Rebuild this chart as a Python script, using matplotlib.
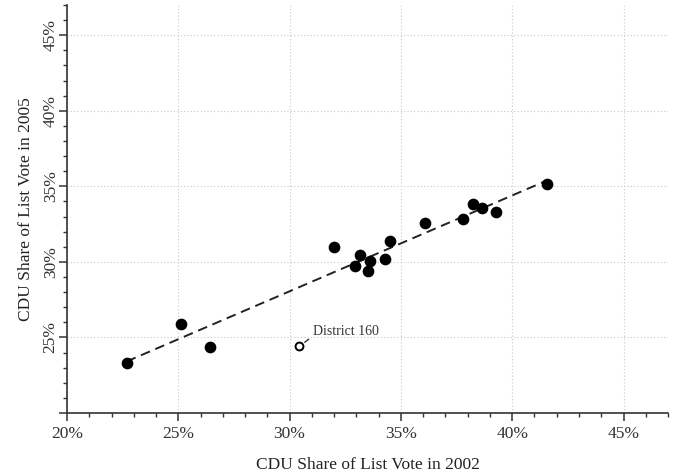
import numpy as np
import matplotlib.pyplot as plt
from matplotlib.ticker import MultipleLocator, FuncFormatter

# CDU share of list vote (%) per district, 2002 vs 2005
cdu_2002 = [22.68, 25.11, 26.42, 32.00, 32.95, 33.18, 33.50, 33.63,
            34.30, 34.50, 36.10, 37.80, 38.25, 38.63, 39.27, 41.55]
cdu_2005 = [23.28, 25.86, 24.34, 30.96, 29.70, 30.43, 29.37, 30.05,
            30.21, 31.38, 32.57, 32.81, 33.83, 33.59, 33.30, 35.18]

# outlier district (open marker)
outlier_2002 = [30.43]
outlier_2005 = [24.40]
outlier_label = "District 160"

plt.rcParams["font.family"] = ["Liberation Serif", "DejaVu Serif"]

fig = plt.figure(figsize=(6.73, 4.76), dpi=100)
ax = fig.add_axes([0.0996, 0.1324, 0.893, 0.857])

ax.set_xlim(20, 47)
ax.set_ylim(20, 47)

ax.grid(True, which="major", color="#c8c8c8", linestyle=(0, (1, 2)), linewidth=0.8)
ax.set_axisbelow(True)

# fitted line over the filled points
slope, icpt = np.polyfit(cdu_2002, cdu_2005, 1)
xs = np.array([min(cdu_2002), max(cdu_2002)])
ax.plot(xs, slope * xs + icpt, color="#222222", linestyle=(0, (5, 3)), linewidth=1.4, zorder=2)

ax.scatter(cdu_2002, cdu_2005, s=55, color="black", zorder=3)
ax.scatter(outlier_2002, outlier_2005, s=32, facecolor="white", edgecolor="black",
           linewidth=1.4, zorder=3)

ax.annotate(outlier_label, xy=(outlier_2002[0], outlier_2005[0]),
            xytext=(outlier_2002[0] + 0.6, outlier_2005[0] + 0.55),
            fontsize=10, color="#333333", va="bottom", ha="left",
            arrowprops=dict(arrowstyle="-", color="#333333", lw=1.0,
                            relpos=(0, 0.15), shrinkA=1, shrinkB=5))

pct = FuncFormatter(lambda v, p: f"{v:.0f}%")
ax.xaxis.set_major_locator(MultipleLocator(5))
ax.xaxis.set_minor_locator(MultipleLocator(1))
ax.yaxis.set_major_locator(MultipleLocator(5))
ax.yaxis.set_minor_locator(MultipleLocator(1))
ax.xaxis.set_major_formatter(pct)
ax.yaxis.set_major_formatter(FuncFormatter(lambda v, p: "" if v < 21 else f"{v:.0f}%"))

for s in ["top", "right"]:
    ax.spines[s].set_visible(False)
for s in ["left", "bottom"]:
    ax.spines[s].set_color("#333333")
    ax.spines[s].set_linewidth(1.2)

ax.tick_params(which="major", direction="out", length=6, width=1.1, colors="#333333",
               labelsize=12.5, labelcolor="#333333")
ax.tick_params(axis="y", which="major", pad=0)
ax.tick_params(which="minor", direction="out", length=3, width=1.0, colors="#333333")
for lab in ax.get_yticklabels():
    lab.set_rotation(90)
    lab.set_va("center")

ax.set_xlabel("CDU Share of List Vote in 2002", fontsize=12.5, color="#222222", labelpad=11)
ax.set_ylabel("CDU Share of List Vote in 2005", fontsize=12.5, color="#222222", labelpad=6)

fig.savefig("out.png", dpi=100)
